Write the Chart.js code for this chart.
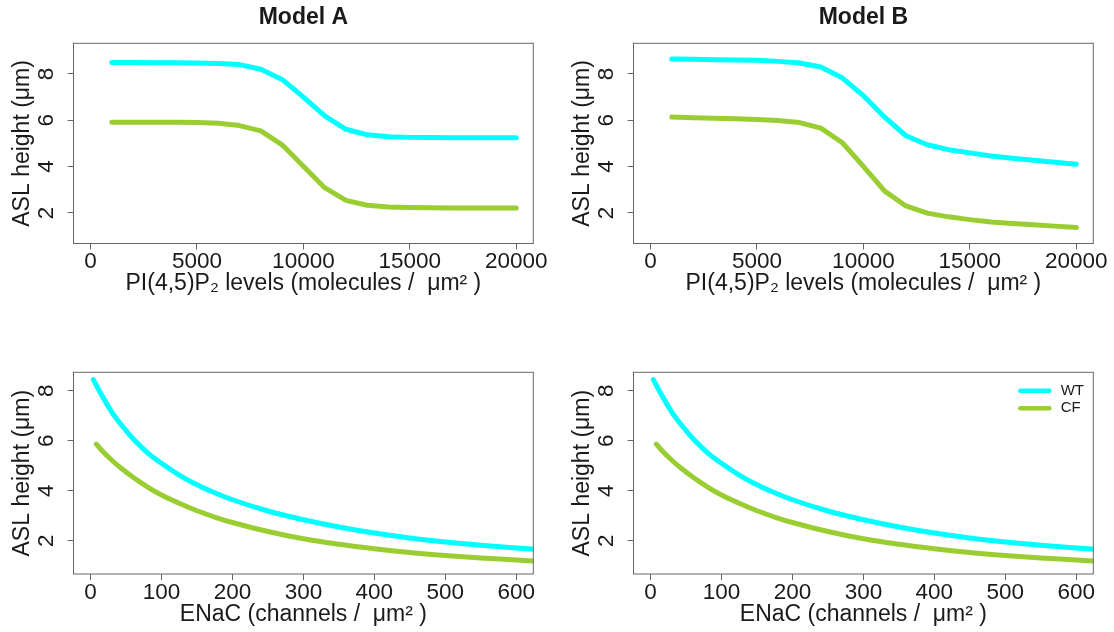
<!DOCTYPE html>
<html>
<head>
<meta charset="utf-8">
<script src="https://cdn.jsdelivr.net/npm/chart.js@4/dist/chart.umd.min.js"></script>
<style>
  body { margin: 0; background: #fff; }
  #wrap { position: relative; width: 1114px; height: 632px; overflow: hidden; background: #fff; }
  canvas { position: absolute; }
</style>
</head>
<body>
<div id="wrap">
  <canvas id="topA" width="560" height="316" style="left:0;top:0;width:560px;height:316px"></canvas>
  <canvas id="topB" width="554" height="316" style="left:560px;top:0;width:554px;height:316px"></canvas>
  <canvas id="botA" width="560" height="316" style="left:0;top:316px;width:560px;height:316px"></canvas>
  <canvas id="botB" width="554" height="316" style="left:560px;top:316px;width:554px;height:316px"></canvas>
</div>
<script>
// PI(4,5)P2 levels (molecules / um^2), one point every 1000
const pip2Levels = [1000, 2000, 3000, 4000, 5000, 6000, 7000, 8000, 9000, 10000,
                    11000, 12000, 13000, 14000, 15000, 16000, 17000, 18000, 19000, 20000];
const pip2WT_A = [8.49, 8.49, 8.48, 8.48, 8.47, 8.45, 8.40, 8.20, 7.76, 7.00,
                  6.19, 5.61, 5.37, 5.29, 5.26, 5.25, 5.24, 5.24, 5.24, 5.24];
const pip2CF_A = [5.91, 5.91, 5.91, 5.91, 5.90, 5.87, 5.77, 5.54, 4.94, 4.01,
                  3.09, 2.54, 2.33, 2.26, 2.23, 2.22, 2.21, 2.21, 2.21, 2.21];
const pip2WT_B = [8.64, 8.63, 8.61, 8.60, 8.59, 8.54, 8.47, 8.30, 7.83, 7.06,
                  6.13, 5.33, 4.94, 4.73, 4.59, 4.46, 4.36, 4.27, 4.19, 4.10];
const pip2CF_B = [6.14, 6.11, 6.09, 6.06, 6.03, 5.99, 5.90, 5.66, 5.04, 4.01,
                  2.94, 2.30, 1.99, 1.83, 1.71, 1.61, 1.54, 1.49, 1.43, 1.37];

// ENaC (channels / um^2) - same curves in both models
const enacWT_x = [4, 15, 30, 45, 60, 80, 100, 125, 150, 175, 200, 250, 300, 350, 400, 450, 500, 550, 600, 625];
const enacWT_y = [8.45, 7.86, 7.15, 6.58, 6.08, 5.53, 5.10, 4.63, 4.24, 3.92, 3.64, 3.19, 2.84, 2.55, 2.31, 2.11, 1.95, 1.82, 1.71, 1.66];
const enacCF_x = [8, 15, 30, 45, 60, 80, 100, 125, 150, 175, 200, 250, 300, 350, 400, 450, 500, 550, 600, 625];
const enacCF_y = [5.87, 5.64, 5.22, 4.86, 4.54, 4.16, 3.83, 3.50, 3.20, 2.95, 2.73, 2.37, 2.08, 1.86, 1.68, 1.53, 1.41, 1.31, 1.23, 1.19];

const pip2Ticks = [0, 5000, 10000, 15000, 20000];
const enacTicks = [0, 100, 200, 300, 400, 500, 600];
const aslTicks = [2, 4, 6, 8];

const seriesNames = ["WT", "CF"];
const WT_COLOR = "#00ffff";
const CF_COLOR = "#9acd32";
const TEXT = "#1a1a1a";
const AXIS = "#666666";
const FONT = '"Liberation Sans", Arial, Helvetica, sans-serif';

Chart.defaults.font.family = FONT;

function toPoints(xs, ys) {
  return xs.map((x, i) => ({ x: x, y: ys[i] }));
}

// Box around plot region, panel title and the small legend
const panelDecor = {
  id: "panelDecor",
  afterDraw(chart, args, opts) {
    const { ctx, chartArea: a } = chart;
    ctx.save();
    ctx.strokeStyle = AXIS;
    ctx.lineWidth = 1;
    ctx.strokeRect(a.left, a.top, a.right - a.left, a.bottom - a.top);
    if (opts.title) {
      ctx.fillStyle = TEXT;
      ctx.font = "bold 23px " + FONT;
      ctx.textAlign = "center";
      ctx.textBaseline = "alphabetic";
      ctx.fillText(opts.title, (a.left + a.right) / 2, opts.titleY);
    }
    if (opts.legend) {
      chart.data.datasets.forEach((ds, i) => {
        const y = a.top + 18.4 + i * 17.6;
        ctx.strokeStyle = ds.borderColor;
        ctx.lineWidth = 4.5;
        ctx.lineCap = "round";
        ctx.beginPath();
        ctx.moveTo(a.right - 73, y);
        ctx.lineTo(a.right - 44, y);
        ctx.stroke();
        ctx.fillStyle = TEXT;
        ctx.font = "15px " + FONT;
        ctx.textAlign = "left";
        ctx.textBaseline = "middle";
        ctx.fillText(ds.label, a.right - 32.6, y);
      });
    }
    ctx.restore();
  },
};

function makePanel(id, cfg) {
  const ctx = document.getElementById(id);
  const lineStyle = {
    borderWidth: 5,
    pointRadius: 0,
    fill: false,
    clip: 0,
    borderCapStyle: "round",
    borderJoinStyle: "round",
  };
  new Chart(ctx, {
    type: "line",
    data: {
      datasets: [
        Object.assign({ label: seriesNames[0], data: toPoints(cfg.xWT, cfg.yWT), borderColor: WT_COLOR }, lineStyle, cfg.curve),
        Object.assign({ label: seriesNames[1], data: toPoints(cfg.xCF, cfg.yCF), borderColor: CF_COLOR }, lineStyle, cfg.curve),
      ],
    },
    options: {
      responsive: false,
      animation: false,
      devicePixelRatio: 1,
      layout: { padding: { left: 0, top: cfg.padTop, right: cfg.padRight, bottom: 0 } },
      plugins: {
        legend: { display: false },
        tooltip: { enabled: false },
        panelDecor: { title: cfg.title, titleY: 24, legend: cfg.legend },
      },
      scales: {
        x: {
          type: "linear",
          min: cfg.xMin,
          max: cfg.xMax,
          afterBuildTicks: (s) => { s.ticks = cfg.xTicks.map((v) => ({ value: v })); },
          afterFit: (s) => { s.height = cfg.xAxisHeight; },
          ticks: {
            autoSkip: false,
            minRotation: 0,
            maxRotation: 0,
            padding: 1.5,
            color: TEXT,
            font: { size: 22.5, lineHeight: 1 },
            callback: (v) => String(v),
          },
          grid: { drawOnChartArea: false, drawTicks: true, tickLength: 6, color: AXIS, lineWidth: 1 },
          border: { display: false },
          title: {
            display: true,
            text: cfg.xTitle,
            color: TEXT,
            font: { size: 23, lineHeight: 1 },
            padding: { top: 0, bottom: cfg.xTitlePad },
          },
        },
        y: {
          type: "linear",
          min: cfg.yMin,
          max: cfg.yMax,
          afterBuildTicks: (s) => { s.ticks = aslTicks.map((v) => ({ value: v })); },
          afterFit: (s) => { s.width = 73.5; },
          ticks: {
            minRotation: 90,
            maxRotation: 90,
            crossAlign: "center",
            padding: 14,
            color: TEXT,
            font: { size: 22.5, lineHeight: 1 },
            callback: (v) => String(v),
          },
          grid: { drawOnChartArea: false, drawTicks: true, tickLength: 6, color: AXIS, lineWidth: 1 },
          border: { display: false },
          title: {
            display: true,
            text: "ASL height (μm)",
            color: TEXT,
            font: { size: 23, lineHeight: 1 },
            padding: { top: 11, bottom: 0 },
          },
        },
      },
    },
    plugins: [panelDecor],
  });
}

const topCommon = {
  xWT: pip2Levels, xCF: pip2Levels,
  curve: { tension: 0 },
  xMin: -800, xMax: 20800, xTicks: pip2Ticks,
  yMin: 0.68, yMax: 9.32,
  padTop: 43.3, xAxisHeight: 72.5, xTitlePad: 20.5,
  xTitle: "PI(4,5)P₂ levels (molecules /  μm² )",
};
const botCommon = {
  xWT: enacWT_x, yWT: enacWT_y, xCF: enacCF_x, yCF: enacCF_y,
  curve: { cubicInterpolationMode: "monotone" },
  xMin: -24, xMax: 624, xTicks: enacTicks,
  yMin: 0.67, yMax: 8.74,
  padTop: 56.3, xAxisHeight: 58, xTitlePad: 6,
  xTitle: "ENaC (channels /  μm² )",
};

makePanel("topA", Object.assign({}, topCommon, { yWT: pip2WT_A, yCF: pip2CF_A, title: "Model A", padRight: 26.7 }));
makePanel("topB", Object.assign({}, topCommon, { yWT: pip2WT_B, yCF: pip2CF_B, title: "Model B", padRight: 20.7 }));
makePanel("botA", Object.assign({}, botCommon, { padRight: 26.7 }));
makePanel("botB", Object.assign({}, botCommon, { padRight: 20.7, legend: true }));
</script>
</body>
</html>
